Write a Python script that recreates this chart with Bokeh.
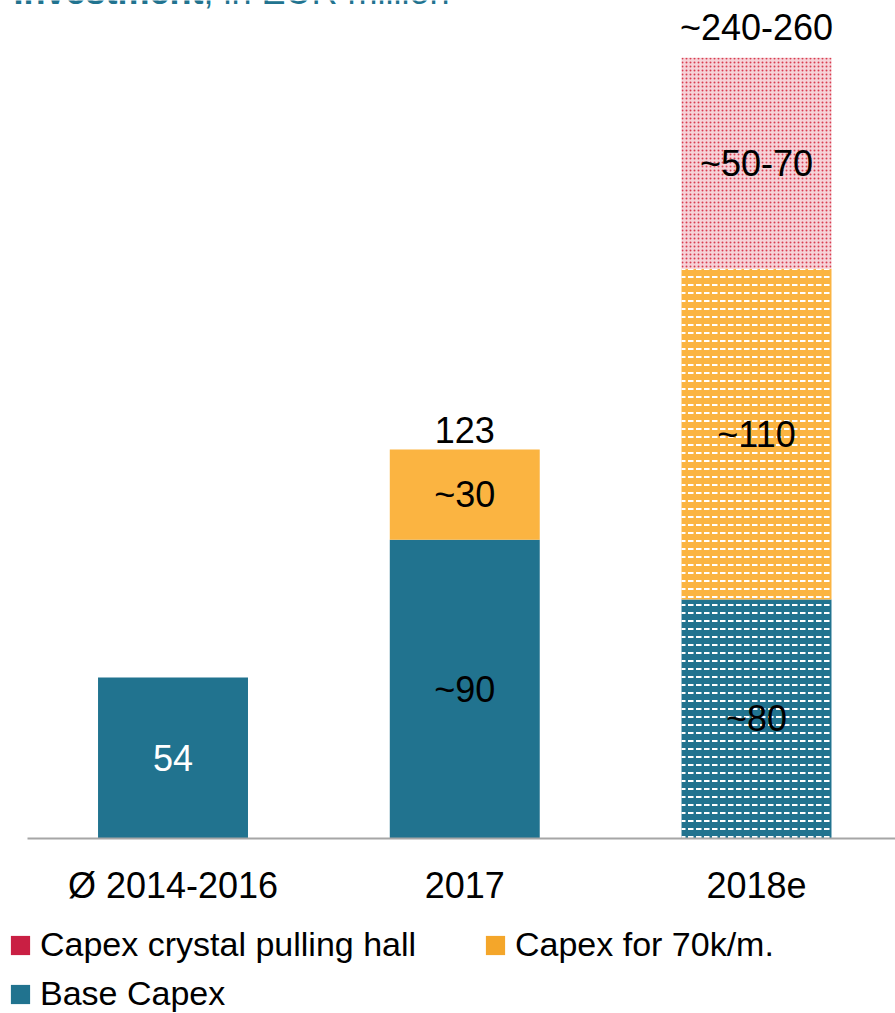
from bokeh.plotting import figure
from bokeh.layouts import column
from bokeh.models import (ColumnDataSource, Range1d, FixedTicker, Legend, LegendItem,
                          Label)
from bokeh.core.properties import value
from bokeh.embed import file_html
from bokeh.resources import INLINE

# ---------------- data (EUR million) ----------------
categories = ["Ø 2014-2016", "2017", "2018e"]
estimated = [False, False, True]
base_capex = [50.9, 94.5, 75.6]
capex_70k = [0.0, 28.5, 104.6]
capex_hall = [0.0, 0.0, 66.7]
base_labels = ["54", "~90", "~80"]
c70k_labels = ["", "~30", "~110"]
hall_labels = ["", "", "~50-70"]
total_labels = ["", "123", "~240-260"]
total_positions = [54.0, 123.0, 250.0]
series_names = ["Capex crystal pulling hall", "Capex for 70k/m.", "Base Capex"]
title_bold = "Investment"
title_rest = ", in EUR million"

# ---------------- styles ----------------
FONT = "Liberation Sans"
BLUE = "#21738f"
ORANGE = "#fbb441"
RED = "#c91f43"
LEG_ORANGE = "#f4a62a"
PINK_BG = "#f6d3d8"
DOT_RED = "#d83c50"
base_label_colors = ["white", "black", "black"]

x = list(range(len(categories)))
b1 = base_capex
b2 = [a + b for a, b in zip(b1, capex_70k)]
b3 = [a + b for a, b in zip(b2, capex_hall)]

src = ColumnDataSource(dict(
    x=x, zero=[0.0] * len(x), b1=b1, b2=b2, b3=b3,
    dash=["horizontal_dash" if e else " " for e in estimated],
    dot=["dot" if e else " " for e in estimated],
))

# ---------------- chart ----------------
p = figure(width=895, height=920,
           x_range=Range1d(-0.5913, 2.4764), y_range=Range1d(0, 265.0),
           output_backend="svg", toolbar_location=None, y_axis_location=None,
           min_border_left=0, min_border_right=0, min_border_top=0,
           min_border_bottom=82, outline_line_color=None,
           background_fill_color="white", border_fill_color="white")
p.grid.visible = False

W = 0.514
p.vbar(x="x", bottom="zero", top="b1", width=W, source=src, fill_color=BLUE,
       line_color=None, hatch_pattern="dash", hatch_color="white",
       hatch_scale=8, hatch_weight=2)
p.vbar(x="x", bottom="b1", top="b2", width=W, source=src, fill_color=ORANGE,
       line_color=None, hatch_pattern="dash", hatch_color="white",
       hatch_scale=8, hatch_weight=2)
p.vbar(x="x", bottom="b2", top="b3", width=W, source=src, fill_color=PINK_BG,
       line_color=None, hatch_pattern="dot", hatch_color=DOT_RED,
       hatch_scale=4, hatch_weight=2)

# segment labels
lx, ly, lt, lc = [], [], [], []
for i in x:
    for lab, lo, hi, col in ((base_labels[i], 0.0, b1[i], base_label_colors[i]),
                             (c70k_labels[i], b1[i], b2[i], "black"),
                             (hall_labels[i], b2[i], b3[i], "black")):
        if lab:
            lx.append(i); ly.append((lo + hi) / 2); lt.append(lab); lc.append(col)
p.text(x="x", y="y", text="t", text_color="c",
       source=ColumnDataSource(dict(x=lx, y=ly, t=lt, c=lc)),
       text_font=value(FONT), text_font_size="36px",
       text_align="center", text_baseline="middle")

# total labels
tx = [i for i in x if total_labels[i]]
p.text(x=tx, y=[total_positions[i] for i in tx], text=[total_labels[i] for i in tx],
       text_font=value(FONT), text_font_size="36px", text_color="black",
       text_align="center", text_baseline="middle", y_offset=-20)

# title (cut off at the top, as in the reference)
p.add_layout(Label(x=13, y=847, x_units="screen", y_units="screen", text=title_bold,
                   text_font=FONT, text_font_size="36px", text_font_style="bold",
                   text_color=BLUE, text_baseline="middle"))
p.add_layout(Label(x=203, y=847, x_units="screen", y_units="screen", text=title_rest,
                   text_font=FONT, text_font_size="36px",
                   text_color=BLUE, text_baseline="middle"))

# x axis
ax = p.xaxis[0]
ax.ticker = FixedTicker(ticks=x)
ax.major_label_overrides = {i: c for i, c in zip(x, categories)}
ax.major_tick_line_color = None
ax.minor_tick_line_color = None
ax.axis_line_color = "#a6a6a6"
ax.axis_line_width = 2
ax.bounds = (-0.5, 2.4764)
ax.major_label_text_font = FONT
ax.major_label_text_font_size = "36px"
ax.major_label_text_color = "black"
ax.major_label_standoff = 20

# ---------------- legend strip ----------------
lg = figure(width=895, height=93, x_range=Range1d(0, 1), y_range=Range1d(0, 1),
            output_backend="svg", toolbar_location=None,
            x_axis_location=None, y_axis_location=None,
            min_border_left=0, min_border_right=0, min_border_top=5,
            min_border_bottom=0, outline_line_color=None,
            background_fill_color="white", border_fill_color="white")
lg.grid.visible = False
nan = float("nan")
r_hall = lg.vbar(x=[0], top=[nan], width=0.5, fill_color=RED, line_color=None)
r_70 = lg.vbar(x=[0], top=[nan], width=0.5, fill_color=LEG_ORANGE, line_color=None)
r_base = lg.vbar(x=[0], top=[nan], width=0.5, fill_color=BLUE, line_color=None)

leg = Legend(items=[LegendItem(label=series_names[0], renderers=[r_hall]),
                    LegendItem(label=series_names[1], renderers=[r_70]),
                    LegendItem(label=series_names[2], renderers=[r_base])],
             orientation="horizontal", ncols=2, location=(8, 0),
             border_line_color=None, background_fill_alpha=0,
             padding=0, margin=0, glyph_width=24, glyph_height=24,
             label_standoff=8, spacing=10, label_width=433,
             label_text_font=FONT, label_text_font_size="34px",
             label_text_color="black")
lg.add_layout(leg)

open("out.html", "w").write(file_html(column(p, lg, spacing=0), INLINE))
